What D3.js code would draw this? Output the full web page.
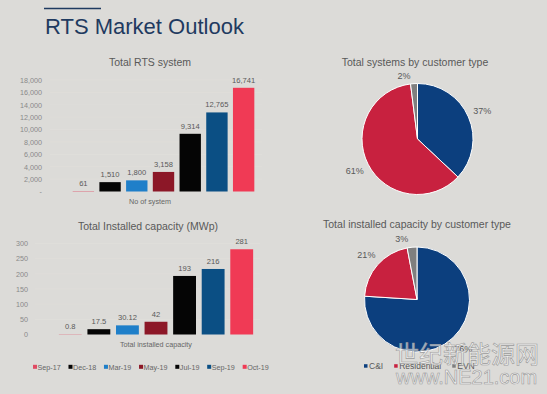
<!DOCTYPE html>
<html>
<head>
<meta charset="utf-8">
<script src="https://cdn.jsdelivr.net/npm/d3@7"></script>
<style>
  body { margin: 0; background: #dcdbd8; }
  svg { display: block; font-family: 'Liberation Sans', Arial, sans-serif; }
</style>
</head>
<body>
<div id="chart"></div>
<script>
// data
const periods = ['Sep-17', 'Dec-18', 'Mar-19', 'May-19', 'Jul-19', 'Sep-19', 'Oct-19']
const periodColors = ['#e04a63', '#050505', '#1f7fc9', '#8c1727', '#050505', '#0b4f84', '#f03a55']
const systems = [61, 1510, 1800, 3158, 9314, 12765, 16741]
const capacity = [0.8, 17.5, 30.12, 42, 193, 216, 281]
const systemTicks = [0, 2000, 4000, 6000, 8000, 10000, 12000, 14000, 16000, 18000]
const capacityTicks = [0, 50, 100, 150, 200, 250, 300]

const customerTypes = ['C&I', 'Residential', 'EVN']
const customerColors = ['#0c3f7e', '#c8213f', '#7f7f7f']
const systemsShare = [37, 61, 2]
const capacityShare = [76, 21, 3]

const width = 547
const height = 394

const svg = d3.select('#chart')
  .append('svg')
  .attr('width', width)
  .attr('height', height)

svg.append('rect')
  .attr('width', width)
  .attr('height', height)
  .attr('fill', '#dcdbd8')

// page title
svg.append('line')
  .attr('x1', 44).attr('x2', 101)
  .attr('y1', 8.5).attr('y2', 8.5)
  .attr('stroke', '#1f3a60')
  .attr('stroke-width', 1.5)

svg.append('text')
  .attr('x', 45)
  .attr('y', 33.5)
  .attr('font-size', 22)
  .attr('fill', '#1f3a60')
  .text('RTS Market Outlook')

function barChart (opts) {
  const g = svg.append('g')

  const x = d3.scaleBand()
    .domain(periods)
    .range(opts.xRange)
    .paddingInner(0.2)
    .paddingOuter(0.1)

  const y = d3.scaleLinear()
    .domain(opts.domain)
    .range(opts.yRange)

  // very faint gridlines
  g.selectAll('.grid')
    .data(opts.ticks.slice(1))
    .enter()
    .append('line')
    .attr('x1', opts.gridX[0])
    .attr('x2', opts.gridX[1])
    .attr('y1', d => y(d))
    .attr('y2', d => y(d))
    .attr('stroke', '#dfdedb')
    .attr('stroke-width', 0.8)

  const yAxis = d3.axisLeft(y)
    .tickValues(opts.ticks)
    .tickSize(0)
    .tickPadding(0)
    .tickFormat(opts.tickFormat)

  g.append('g')
    .attr('transform', 'translate(' + opts.axisX + ',0)')
    .call(yAxis)
    .call(a => a.select('.domain').remove())
    .selectAll('text')
    .attr('font-family', 'Liberation Sans, Arial, sans-serif')
    .attr('font-size', 7.2)
    .attr('fill', '#8a8a8a')

  g.selectAll('.bar')
    .data(opts.values)
    .enter()
    .append('rect')
    .attr('x', (d, i) => x(periods[i]))
    .attr('y', d => y(d))
    .attr('width', x.bandwidth())
    .attr('height', d => y(0) - y(d))
    .attr('fill', (d, i) => periodColors[i])

  g.selectAll('.value')
    .data(opts.values)
    .enter()
    .append('text')
    .attr('x', (d, i) => x(periods[i]) + x.bandwidth() / 2)
    .attr('y', d => y(d) - 5)
    .attr('text-anchor', 'middle')
    .attr('font-size', 7.6)
    .attr('fill', '#595959')
    .text(opts.valueFormat)

  g.append('text')
    .attr('x', opts.titleX)
    .attr('y', opts.titleY)
    .attr('text-anchor', 'middle')
    .attr('font-size', 10.5)
    .attr('fill', '#595959')
    .text(opts.title)

  g.append('text')
    .attr('x', opts.captionX)
    .attr('y', y(0) + 12)
    .attr('text-anchor', 'middle')
    .attr('font-size', 7.2)
    .attr('fill', '#666')
    .text(opts.caption)
}

barChart({
  xRange: [70, 257],
  yRange: [191.5, 80],
  domain: [0, 18000],
  ticks: systemTicks,
  gridX: [50, 262],
  axisX: 42,
  tickFormat: d => d === 0 ? '-' : d3.format(',')(d),
  values: systems,
  valueFormat: d => d3.format(',')(d),
  title: 'Total RTS system',
  titleX: 150,
  titleY: 66,
  caption: 'No of system',
  captionX: 150
})

barChart({
  xRange: [56, 256],
  yRange: [334.5, 243.5],
  domain: [0, 300],
  ticks: capacityTicks,
  gridX: [35, 260],
  axisX: 28,
  tickFormat: d => String(d),
  values: capacity,
  valueFormat: d => String(d),
  title: 'Total Installed capacity (MWp)',
  titleX: 148,
  titleY: 229.5,
  caption: 'Total installed capacity',
  captionX: 156
})

// legend for the bars
const legend = svg.append('g').attr('transform', 'translate(33,367)')
let lx = 0
periods.forEach((p, i) => {
  legend.append('rect')
    .attr('x', lx)
    .attr('y', -2.2)
    .attr('width', 4)
    .attr('height', 4)
    .attr('fill', periodColors[i])
  const t = legend.append('text')
    .attr('x', lx + 4.5)
    .attr('y', 2.6)
    .attr('font-size', 7.2)
    .attr('fill', '#666')
    .text(p)
  lx += 4.5 + t.node().getComputedTextLength() + 7.8
})

// pies
function pieChart (opts) {
  const g = svg.append('g')
    .attr('transform', 'translate(' + opts.cx + ',' + opts.cy + ')')

  const pie = d3.pie().sort(null)
  const arcs = pie(opts.values)

  const arc = d3.arc().innerRadius(0).outerRadius(opts.r)
  const labelArc = d3.arc().innerRadius(opts.r + 15).outerRadius(opts.r + 15)
  const smallArc = d3.arc().innerRadius(opts.r + 8).outerRadius(opts.r + 8)

  g.selectAll('path')
    .data(arcs)
    .enter()
    .append('path')
    .attr('d', arc)
    .attr('fill', (d, i) => customerColors[i])
    .attr('stroke', '#ffffff')
    .attr('stroke-width', 1)

  // thin slices get their label tucked to the left of the slice
  g.selectAll('.lbl')
    .data(arcs)
    .enter()
    .append('text')
    .attr('transform', d => {
      const small = d.data < 5
      const c = small ? smallArc.centroid(d) : labelArc.centroid(d)
      return 'translate(' + (small ? c[0] - 3 : c[0]) + ',' + c[1] + ')'
    })
    .attr('text-anchor', d => d.data < 5 ? 'end' : 'middle')
    .attr('dy', '0.35em')
    .attr('font-size', 9)
    .attr('fill', '#595959')
    .text(d => d.data + '%')

  svg.append('text')
    .attr('x', opts.titleX)
    .attr('y', opts.titleY)
    .attr('text-anchor', 'middle')
    .attr('font-size', 10.5)
    .attr('fill', '#595959')
    .text(opts.title)
}

pieChart({
  cx: 417.5,
  cy: 139,
  r: 55.5,
  values: systemsShare,
  title: 'Total systems by customer type',
  titleX: 415,
  titleY: 66
})

pieChart({
  cx: 417,
  cy: 299.5,
  r: 52.5,
  values: capacityShare,
  title: 'Total installed capacity by customer type',
  titleX: 417,
  titleY: 227.5
})

// legend for the pies
const pieLegend = svg.append('g').attr('transform', 'translate(364,366)')
let px = 0
customerTypes.forEach((c, i) => {
  pieLegend.append('rect')
    .attr('x', px)
    .attr('y', -1.8)
    .attr('width', 3.5)
    .attr('height', 3.5)
    .attr('fill', customerColors[i])
  const t = pieLegend.append('text')
    .attr('x', px + 5)
    .attr('y', 3)
    .attr('font-size', 8.5)
    .attr('fill', '#595959')
    .text(c)
  px += 5 + t.node().getComputedTextLength() + 11
})

// watermark over the corner, as in the source image
svg.append('text')
  .attr('x', 395)
  .attr('y', 363)
  .attr('font-family', 'Noto Sans CJK SC')
  .attr('font-size', 24)
  .attr('fill', '#ffffff')
  .attr('fill-opacity', 0.6)
  .attr('stroke', '#9a9a9a')
  .attr('stroke-width', 0.6)
  .text('世纪新能源网')

svg.append('text')
  .attr('x', 396)
  .attr('y', 384)
  .attr('font-size', 20)
  .attr('fill', '#ffffff')
  .attr('fill-opacity', 0.6)
  .attr('stroke', '#9a9a9a')
  .attr('stroke-width', 0.6)
  .text('www.NE21.com')
</script>
</body>
</html>
